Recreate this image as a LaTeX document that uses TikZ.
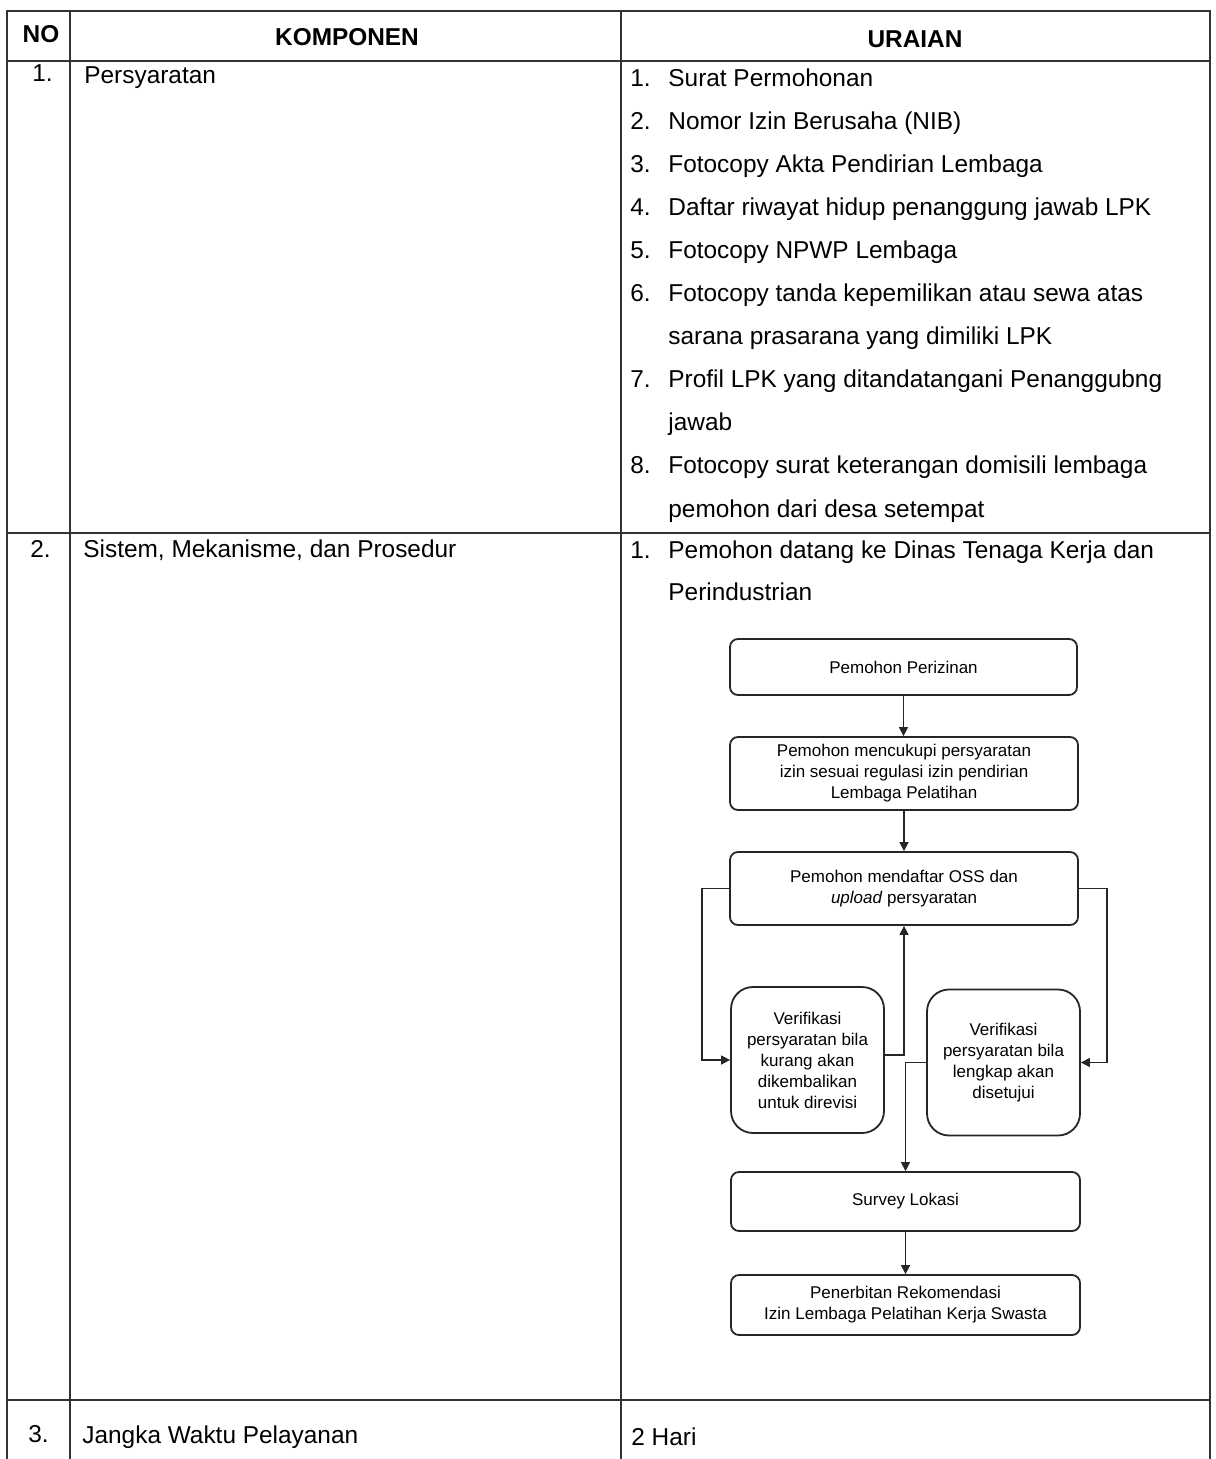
\documentclass[tikz,border=0pt]{standalone}
\usepackage{fontspec}
\setmainfont{Liberation Sans}
\usetikzlibrary{arrows.meta}
\begin{document}
\begin{tikzpicture}[x=0.5pt,y=-0.5pt,
  tline/.style={line width=1pt, draw=black!80},
  txt/.style={anchor=base west, inner sep=0pt, font=\fontsize{12.2}{14}\selectfont},
  hdr/.style={anchor=base, inner sep=0pt, font=\fontsize{12.2}{14}\selectfont\bfseries},
  fbox/.style={draw=black!85, line width=0.9pt, rounded corners=4pt, align=center, inner sep=1pt, font=\fontsize{8.5}{10.5}\selectfont},
  vbox/.style={fbox, rounded corners=11pt, minimum width=76.5pt, minimum height=73pt},
  arr/.style={draw=black!85, line width=0.7pt, -{Triangle[length=4.5pt,width=4.5pt]}}
]
\useasboundingbox (0,0) rectangle (1215,1459);
\fill[white] (0,0) rectangle (1215,1459);
% table grid
\draw[tline] (7,1459) -- (7,11) -- (1210,11) -- (1210,1459);
\draw[tline] (70,11) -- (70,1459);
\draw[tline] (621,11) -- (621,1459);
\draw[tline] (7,61) -- (1210,61);
\draw[tline] (7,533) -- (1210,533);
\draw[tline] (7,1400) -- (1210,1400);
% header
\node[hdr] (hno) at (41,43) {NO};
\node[hdr] (hkomp) at (347,46) {KOMPONEN};
\node[hdr] (hur) at (915,48) {URAIAN};
% row 1
\node[txt] (r1no) at (32,82) {1.};
\node[txt] (r1k) at (84,84) {Persyaratan};
\node[txt] (n1) at (630,87) {1.};
\node[txt] (t1) at (668,87) {Surat Permohonan};
\node[txt] (n2) at (630,130) {2.};
\node[txt] (t2) at (668,130) {Nomor Izin Berusaha (NIB)};
\node[txt] (n3) at (630,173) {3.};
\node[txt] (t3) at (668,173) {Fotocopy Akta Pendirian Lembaga};
\node[txt] (n4) at (630,216) {4.};
\node[txt] (t4) at (668,216) {Daftar riwayat hidup penanggung jawab LPK};
\node[txt] (n5) at (630,259) {5.};
\node[txt] (t5) at (668,259) {Fotocopy NPWP Lembaga};
\node[txt] (n6) at (630,302) {6.};
\node[txt] (t6a) at (668,302) {Fotocopy tanda kepemilikan atau sewa atas};
\node[txt] (t6b) at (668,345) {sarana prasarana yang dimiliki LPK};
\node[txt] (n7) at (630,388) {7.};
\node[txt] (t7a) at (668,388) {Profil LPK yang ditandatangani Penanggubng};
\node[txt] (t7b) at (668,431) {jawab};
\node[txt] (n8) at (630,474) {8.};
\node[txt] (t8a) at (668,474) {Fotocopy surat keterangan domisili lembaga};
\node[txt] (t8b) at (668,517) {pemohon dari desa setempat};
% row 2
\node[txt] (r2no) at (30,557) {2.};
\node[txt] (r2k) at (83,557) {Sistem, Mekanisme, dan Prosedur};
\node[txt] (m1) at (630,559) {1.};
\node[txt] (m1a) at (668,559) {Pemohon datang ke Dinas Tenaga Kerja dan};
\node[txt] (m1b) at (668,600) {Perindustrian};
% flowchart
\node[fbox, minimum width=173.5pt, minimum height=28pt] (b1) at (903.5,667) {Pemohon Perizinan};
\node[fbox, minimum width=174pt, minimum height=36.5pt] (b2) at (904,773.5) {Pemohon mencukupi persyaratan\\izin sesuai regulasi izin pendirian\\Lembaga Pelatihan};
\node[fbox, minimum width=174pt, minimum height=36.5pt] (b3) at (904,888.5) {Pemohon mendaftar OSS dan\\\textit{upload} persyaratan};
\node[vbox] (b4) at (807.5,1060) {Verifikasi\\persyaratan bila\\kurang akan\\dikembalikan\\untuk direvisi};
\node[vbox] (b5) at (1003.5,1062.5) {Verifikasi\\persyaratan bila\\lengkap akan\\disetujui};
\node[fbox, minimum width=174.5pt, minimum height=29.5pt] (b6) at (905.5,1201.5) {Survey Lokasi};
\node[fbox, minimum width=174.5pt, minimum height=30pt] (b7) at (905.5,1305) {Penerbitan Rekomendasi\\Izin Lembaga Pelatihan Kerja Swasta};
% connectors
\draw[arr] (b1.south) -- (b1.south |- b2.north);
\draw[arr] (b2.south) -- (b2.south |- b3.north);
\draw[arr] (b3.west) -- ++(-27,0) |- (b4.west);
\draw[arr] (b3.east) -- ++(28,0) |- (b5.east);
\draw[arr] ([yshift=2.5pt]b4.east) -| (b3.south);
\draw[arr] (b5.west) -| (b6.north);
\draw[arr] (b6.south) -- (b6.south |- b7.north);
% row 3
\node[txt] (r3no) at (28,1442) {3.};
\node[txt] (r3k) at (82,1443) {Jangka Waktu Pelayanan};
\node[txt] (r3u) at (631,1445) {2 Hari};
\end{tikzpicture}
\end{document}
